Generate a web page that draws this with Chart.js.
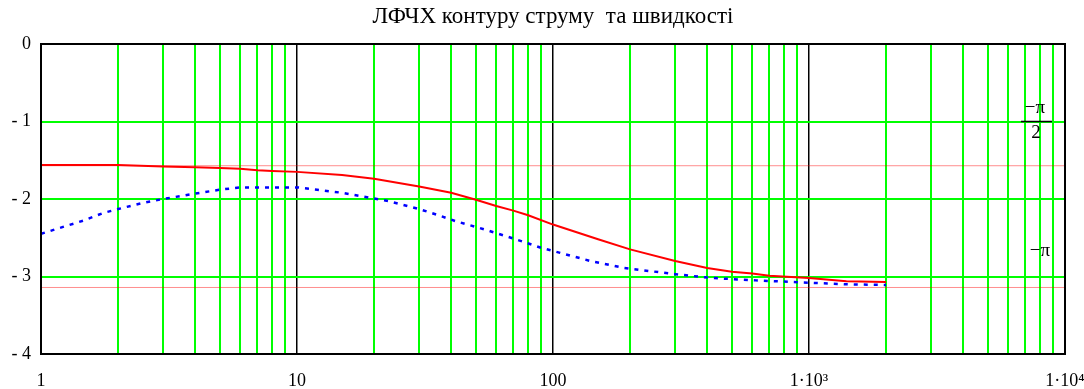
<!DOCTYPE html>
<html>
<head>
<meta charset="utf-8">
<script src="https://cdn.jsdelivr.net/npm/chart.js@4.4.1/dist/chart.umd.min.js"></script>
<style>
  html, body { margin: 0; padding: 0; background: #fff; }
  canvas { display: block; }
</style>
</head>
<body>
<canvas id="chart" width="1084" height="389"></canvas>
<script>
// Log-frequency phase response (ЛФЧХ) of the current and speed loops
const chartTitle = 'ЛФЧХ контуру струму  та швидкості';

// current loop phase, rad
const currentFreq  = [1, 2, 3, 4, 5, 6, 7, 8, 10, 15, 20, 30, 40, 50, 60, 70, 80, 100, 150, 200, 300, 400, 500, 600, 700, 1000, 1400, 2000];
const currentPhase = [-1.56, -1.56, -1.58, -1.59, -1.60, -1.61, -1.63, -1.64, -1.65, -1.69, -1.74, -1.84, -1.92, -2.01, -2.09, -2.15, -2.21, -2.33, -2.52, -2.65, -2.80, -2.89, -2.94, -2.96, -2.99, -3.02, -3.06, -3.07];

// speed loop phase, rad
const speedFreq  = [1, 1.22, 1.46, 1.75, 2, 2.5, 3, 4, 5, 6, 10, 12, 15, 19, 23, 27, 30, 35, 42, 50, 60, 70, 90, 100, 140, 190, 300, 420, 620, 860, 1000, 1400, 2000];
const speedPhase = [-2.45, -2.36, -2.28, -2.18, -2.13, -2.05, -2.00, -1.93, -1.88, -1.85, -1.85, -1.88, -1.92, -1.98, -2.03, -2.09, -2.13, -2.20, -2.29, -2.36, -2.44, -2.51, -2.63, -2.67, -2.80, -2.89, -2.97, -3.02, -3.05, -3.07, -3.08, -3.10, -3.11];

// reference phase levels: −π/2 and −π
const refPhases = [-Math.PI / 2, -Math.PI];

// axis ticks
const xGrid = [1, 2, 3, 4, 5, 6, 7, 8, 9,
               10, 20, 30, 40, 50, 60, 70, 80, 90,
               100, 200, 300, 400, 500, 600, 700, 800, 900,
               1000, 2000, 3000, 4000, 5000, 6000, 7000, 8000, 9000, 10000];
const xDecades = [1, 10, 100, 1000, 10000];
const xLabels  = ['1', '10', '100', '1·10³', '1·10⁴'];
const yTicks   = [0, -1, -2, -3, -4];
const yLabels  = ['0', '- 1', '- 2', '- 3', '- 4'];

const SERIF = "'Liberation Serif', 'DejaVu Serif', serif";
const GREEN = '#00ff00';

const toPoints = (xs, ys) => xs.map((x, i) => ({ x, y: ys[i] }));
const xMin = xDecades[0], xMax = xDecades[xDecades.length - 1];

const frameAndMarks = {
  id: 'frameAndMarks',
  afterDraw(chart) {
    const { ctx, chartArea: a, scales } = chart;
    ctx.save();
    ctx.strokeStyle = '#000';
    ctx.lineWidth = 2;
    ctx.strokeRect(a.left, a.top, a.right - a.left, a.bottom - a.top);

    // labels of the reference levels
    ctx.fillStyle = '#000';
    ctx.font = '19px ' + SERIF;
    ctx.textAlign = 'center';
    ctx.textBaseline = 'middle';
    const y = scales.y;
    const cx = a.right - 29;
    const barY = Math.round(y.getPixelForValue(refPhases[0]) - 45) + 0.5;
    ctx.fillText('−π', cx - 1, barY - 13);
    ctx.fillText('2', cx, barY + 12);
    ctx.lineWidth = 1.5;
    ctx.beginPath();
    ctx.moveTo(cx - 15, barY);
    ctx.lineTo(cx + 16, barY);
    ctx.stroke();
    ctx.fillText('−π', cx + 4, y.getPixelForValue(refPhases[1]) - 36);
    ctx.restore();
  }
};

new Chart(document.getElementById('chart'), {
  type: 'line',
  data: {
    datasets: [
      ...refPhases.map(p => ({
        data: [{ x: xMin, y: p }, { x: xMax, y: p }],
        borderColor: 'rgba(255, 0, 0, 0.45)',
        borderWidth: 1,
        pointRadius: 0
      })),
      {
        data: toPoints(speedFreq, speedPhase),
        borderColor: '#0000ff',
        borderWidth: 2.5,
        borderDash: [4, 6],
        pointRadius: 0
      },
      {
        data: toPoints(currentFreq, currentPhase),
        borderColor: '#ff0000',
        borderWidth: 2,
        pointRadius: 0
      }
    ]
  },
  options: {
    responsive: false,
    animation: false,
    devicePixelRatio: 1,
    layout: { padding: { left: 0, right: 19, top: 0, bottom: 0 } },
    plugins: {
      legend: { display: false },
      tooltip: { enabled: false },
      title: {
        display: true,
        text: chartTitle,
        fullSize: false,
        color: '#000',
        font: { family: SERIF, size: 23, weight: 'normal', lineHeight: 1.2 },
        padding: { top: 3, bottom: 13.4 }
      }
    },
    scales: {
      x: {
        type: 'logarithmic',
        min: xMin,
        max: xMax,
        afterBuildTicks: s => { s.ticks = xGrid.map(v => ({ value: v })); },
        afterFit: s => { s.height = 35; s.paddingLeft = 0; s.paddingRight = 0; },
        grid: {
          drawTicks: false,
          color: c => (c.tick && xDecades.includes(c.tick.value))
            ? ((c.tick.value === xMin || c.tick.value === xMax) ? 'rgba(0,0,0,0)' : '#000')
            : GREEN,
          lineWidth: c => (c.tick && xDecades.includes(c.tick.value)) ? 1.5 : 2
        },
        border: { display: false },
        ticks: {
          autoSkip: false,
          maxRotation: 0,
          padding: 16,
          color: '#000',
          font: { family: SERIF, size: 18 },
          callback: v => {
            const i = xDecades.indexOf(v);
            return i >= 0 ? xLabels[i] : '';
          }
        }
      },
      y: {
        type: 'linear',
        min: -4,
        max: 0,
        afterBuildTicks: s => { s.ticks = yTicks.map(v => ({ value: v })); },
        afterFit: s => { s.width = 41; s.paddingTop = 0; s.paddingBottom = 0; },
        grid: {
          drawTicks: false,
          color: c => (c.tick && (c.tick.value === 0 || c.tick.value === -4)) ? 'rgba(0,0,0,0)' : GREEN,
          lineWidth: 2
        },
        border: { display: false },
        ticks: {
          padding: 10,
          color: '#000',
          font: { family: SERIF, size: 18 },
          callback: v => {
            const i = yTicks.indexOf(v);
            return i >= 0 ? yLabels[i] : '';
          }
        }
      }
    }
  },
  plugins: [frameAndMarks]
});
</script>
</body>
</html>
